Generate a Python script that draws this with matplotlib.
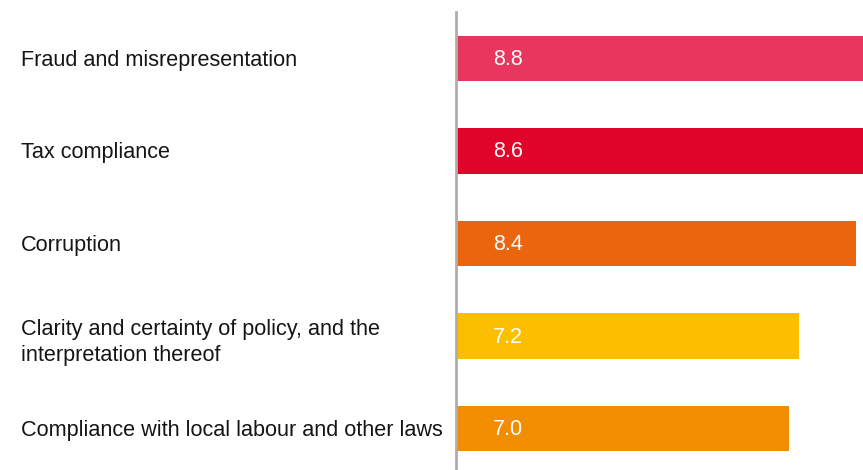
import matplotlib.pyplot as plt

plt.rcParams['font.family'] = ['Liberation Sans', 'DejaVu Sans']

categories = [
    'Fraud and misrepresentation',
    'Tax compliance',
    'Corruption',
    'Clarity and certainty of policy, and the\ninterpretation thereof',
    'Compliance with local labour and other laws',
]
scores = [8.8, 8.6, 8.4, 7.2, 7.0]
colors = ['#E8365E', '#E0042A', '#EA650D', '#FCBF00', '#F18D00']

W, H = 863, 470
fig = plt.figure(figsize=(W / 100, H / 100), dpi=100)
ax = fig.add_axes([456 / W, 0, (W - 456) / W, 458 / H])

y = list(range(len(categories)))
ax.barh(y, scores, height=0.49, color=colors, zorder=1)

for yi, cat, val in zip(y, categories, scores):
    ax.annotate(f'{val:.1f}', xy=(0, yi), xytext=(37, -1), textcoords='offset pixels',
                ha='left', va='center', color='white', fontsize=15.5)
    # wrapped labels sit a little lower than the bar centre
    dy = -6 if '\n' in cat else -2
    ax.annotate(cat, xy=(0, yi), xycoords=('figure pixels', 'data'), xytext=(21, dy),
                textcoords='offset pixels', ha='left', va='center', color='#151515',
                fontsize=15.6, linespacing=1.3, annotation_clip=False)

ax.set_xlim(0, (W - 456) / 47.6)
ax.set_ylim(-0.5 + 458 / 92.6, -0.5)
ax.set_xticks([])
ax.set_yticks([])
for side in ['top', 'right', 'bottom']:
    ax.spines[side].set_visible(False)
ax.spines['left'].set_color('#B4ABA6')
ax.spines['left'].set_linewidth(2)
ax.spines['left'].set_zorder(3)

fig.savefig('out.png', dpi=100)
